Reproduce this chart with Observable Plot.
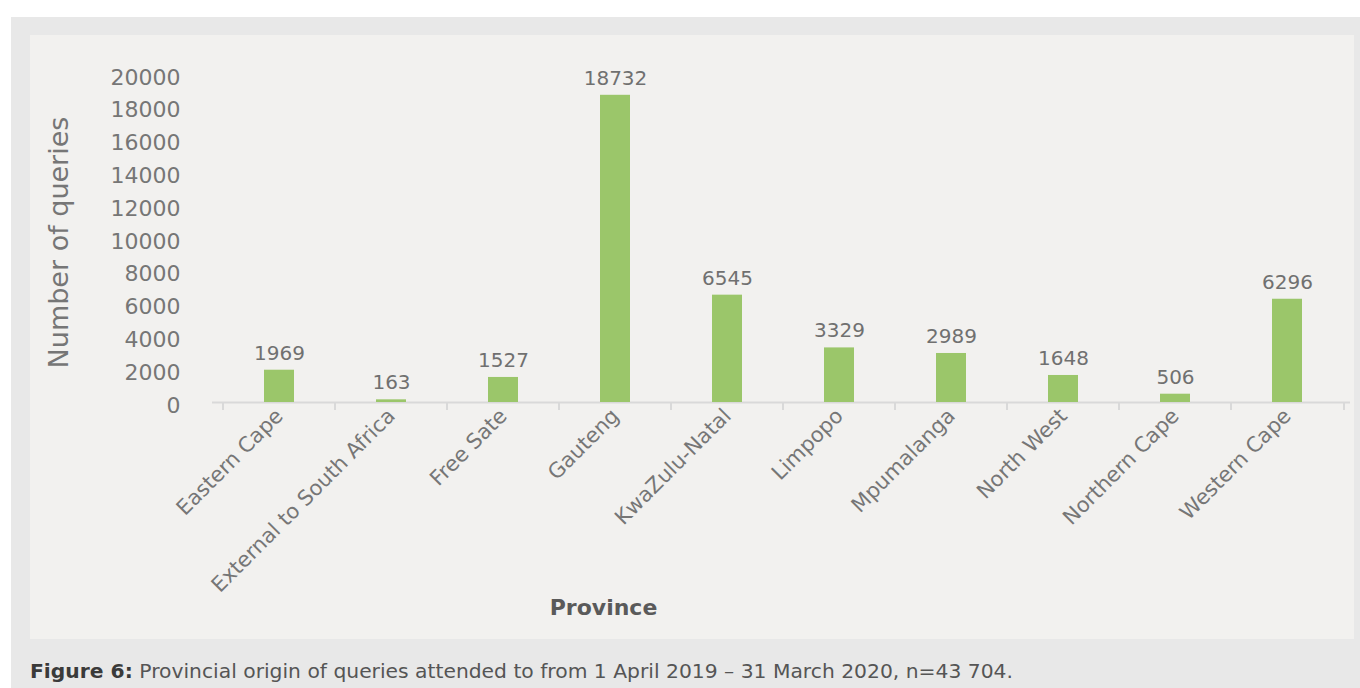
<!DOCTYPE html>
<html>
<head>
<meta charset="utf-8">
<script src="https://cdn.jsdelivr.net/npm/d3@7"></script>
<script src="https://cdn.jsdelivr.net/npm/@observablehq/plot@0.6"></script>
<style>
  html, body { margin: 0; padding: 0; background: #ffffff; width: 1360px; height: 688px; overflow: hidden; }
  #outer { position: absolute; left: 11px; top: 17px; width: 1349px; height: 671px; background: #e8e8e8; }
  #panel { position: absolute; left: 30px; top: 35px; width: 1324px; height: 604px; background: #f2f1ef; }
  #panel svg { display: block; background: transparent; }
  #caption { position: absolute; left: 30px; top: 659px; font-family: "DejaVu Sans", sans-serif; font-size: 20.3px; color: #555; white-space: nowrap; }
  #caption b { color: #3a3a3a; }
</style>
</head>
<body>
<div id="outer"></div>
<div id="panel"></div>
<div id="caption"><b>Figure 6:</b> Provincial origin of queries attended to from 1 April 2019 – 31 March 2020, n=43 704.</div>
<script>
const provinces = ["Eastern Cape", "External to South Africa", "Free Sate", "Gauteng", "KwaZulu-Natal", "Limpopo", "Mpumalanga", "North West", "Northern Cape", "Western Cape"];
const queries = [1969, 163, 1527, 18732, 6545, 3329, 2989, 1648, 506, 6296];
const yTicks = [0, 2000, 4000, 6000, 8000, 10000, 12000, 14000, 16000, 18000, 20000];

const data = provinces.map((p, i) => ({province: p, value: queries[i]}));
const font = "DejaVu Sans, sans-serif";
const grey = "#767676";

const chart = Plot.plot({
  width: 1324,
  height: 604,
  marginLeft: 190,
  marginRight: 8,
  marginTop: 39,
  marginBottom: 237,
  style: {background: "transparent", fontFamily: font, fontSize: "20px", color: grey},
  x: {domain: provinces, paddingInner: 0.735, paddingOuter: 0.3675, label: null},
  y: {domain: [0, 20000], label: null},
  marks: [
    Plot.ruleY([0], {stroke: "#d9d9d9", strokeWidth: 2, insetLeft: -8, insetRight: -4}),
    Plot.barY(data, {x: "province", y: "value", fill: "#9bc66a"}),
    Plot.text(data, {x: "province", y: "value", text: d => String(d.value), dy: -17, fill: "#707070", fontSize: 20}),
    Plot.axisY({ticks: yTicks, tickSize: 0, tickPadding: 40, tickFormat: d => String(d), fontSize: 22, dy: 3, fill: grey, label: null}),
    Plot.axisX({tickSize: 0, tickRotate: -45, tickPadding: 10, fontSize: 21, fill: grey, label: null}),
    Plot.axisX({ticks: provinces, text: null, tickSize: 8, dx: -56.5, stroke: "#d9d9d9", strokeWidth: 2, label: null}),
    Plot.axisX({ticks: provinces.slice(-1), text: null, tickSize: 8, dx: 56.5, stroke: "#d9d9d9", strokeWidth: 2, label: null}),
    Plot.text(["Number of queries"], {frameAnchor: "left", textAnchor: "middle", rotate: -90, dx: -161, dy: 4, fontSize: 27, fill: grey}),
    Plot.text(["Province"], {frameAnchor: "bottom", dx: -180, dy: 212, fontSize: 22, fontWeight: 600, fill: "#5a5a5a"})
  ]
});
document.getElementById("panel").appendChild(chart);
</script>
</body>
</html>
